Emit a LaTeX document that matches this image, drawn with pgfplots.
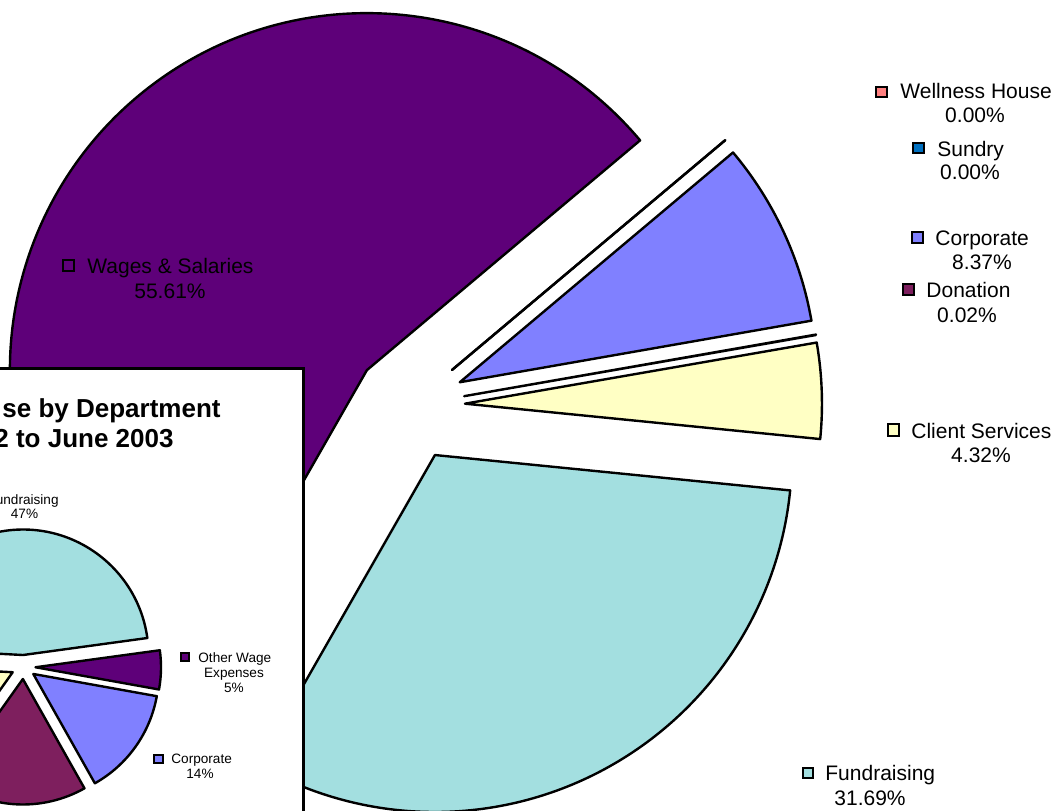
\documentclass[border=0pt]{standalone}
\usepackage{pgfplots}
\pgfplotsset{compat=1.18}
\usepackage{fontspec}
\setmainfont{Liberation Sans}

\definecolor{cWages}{RGB}{94,0,121}
\definecolor{cFund}{RGB}{163,223,224}
\definecolor{cClient}{RGB}{255,255,196}
\definecolor{cDon}{RGB}{126,31,94}
\definecolor{cCorp}{RGB}{128,128,255}
\definecolor{cSundry}{RGB}{0,112,192}
\definecolor{cWell}{RGB}{255,128,128}

% ---- data: main pie (percent) ----
\def\vFund{31.69}
\def\vClient{4.32}
\def\vDon{0.02}
\def\vCorp{8.37}
\def\vSundry{0.00}
\def\vWell{0.00}
\def\vWages{55.61}
% ---- data: inset pie (percent) ----
\def\iMaroon{18}
\def\iCorp{14}
\def\iOther{5}
\def\iFund{47}
\def\iYellow{16}

\pgfmathsetmacro\bigsum{\vFund+\vClient+\vDon+\vCorp+\vSundry+\vWell+\vWages}
\pgfmathsetmacro\bA{-119.76}
\pgfmathsetmacro\bB{\bA+(\vFund/\bigsum)*360}
\pgfmathsetmacro\bC{\bB+(\vClient/\bigsum)*360}
\pgfmathsetmacro\bD{\bC+(\vDon/\bigsum)*360}
\pgfmathsetmacro\bE{\bD+(\vCorp/\bigsum)*360}
\pgfmathsetmacro\bF{\bE+(\vSundry/\bigsum)*360}
\pgfmathsetmacro\bG{\bF+(\vWell/\bigsum)*360}
\pgfmathsetmacro\bH{\bG+(\vWages/\bigsum)*360}

\pgfmathsetmacro\insum{\iMaroon+\iCorp+\iOther+\iFund+\iYellow}
\pgfmathsetmacro\iA{-125.4}
\pgfmathsetmacro\iB{\iA+(\iMaroon/\insum)*360}
\pgfmathsetmacro\iC{\iB+(\iCorp/\insum)*360}
\pgfmathsetmacro\iD{\iC+(\iOther/\insum)*360}
\pgfmathsetmacro\iE{\iD+(\iFund/\insum)*360}
\pgfmathsetmacro\iF{\iE+(\iYellow/\insum)*360}

% slice: cx, cy, explode(pt), radius(pt), start, end, color, line width
\newcommand\slice[8]{%
  \edef\temp{\noexpand\filldraw[fill=#7,draw=black,line width=#8,line join=round]
    (axis cs:#1,#2) ++({(#5+#6)/2}:#3) -- ++(#5:#4)
    arc[start angle=#5,end angle=#6,radius=#4] -- cycle;}\temp}
\newcommand\key[5]{% x1,y1,x2,y2,color
  \filldraw[fill=#5,draw=black,line width=1.15pt] (axis cs:#1,#2) rectangle (axis cs:#3,#4);}

\newcommand\bigf{\fontsize{10.5}{12}\selectfont}
\newcommand\smallf{\fontsize{6.8}{8}\selectfont}
\newcommand\titlef{\fontsize{13}{15}\selectfont\bfseries}

\begin{document}
\begin{tikzpicture}
\begin{axis}[x=0.5pt, y=0.5pt, xmin=0, xmax=1058, ymin=0, ymax=810,
  hide axis, clip=false]
% main exploded pie
\slice{409.5}{404.3}{27.75pt}{178.5pt}{\bA}{\bB}{cFund}{1.2pt}
\slice{409.5}{404.3}{27.75pt}{178.5pt}{\bB}{\bC}{cClient}{1.2pt}
\slice{409.5}{404.3}{27.75pt}{178.5pt}{\bC}{\bD}{cDon}{1.2pt}
\slice{409.5}{404.3}{27.75pt}{178.5pt}{\bD}{\bE}{cCorp}{1.2pt}
\slice{409.5}{404.3}{27.75pt}{178.5pt}{\bE}{\bF}{cSundry}{1.2pt}
\slice{409.5}{404.3}{27.75pt}{178.5pt}{\bF}{\bG}{cWell}{1.2pt}
\slice{409.5}{404.3}{27.75pt}{178.5pt}{\bG}{\bH}{cWages}{1.2pt}

% labels main pie
\key{63}{539}{74}{550}{cWages}
\node[anchor=base west,font=\bigf,inner sep=0pt] at (axis cs:87,537) {Wages \& Salaries};
\node[anchor=base,font=\bigf,inner sep=0pt] at (axis cs:170,512) {55.61\%};

\key{876}{713}{887}{723}{cWell}
\node[anchor=base west,font=\bigf,inner sep=0pt] at (axis cs:900,711) {Wellness House};
\node[anchor=base,font=\bigf,inner sep=0pt] at (axis cs:975,687) {0.00\%};

\key{913}{657}{924}{667}{cSundry}
\node[anchor=base west,font=\bigf,inner sep=0pt] at (axis cs:937,653) {Sundry};
\node[anchor=base,font=\bigf,inner sep=0pt] at (axis cs:970,630) {0.00\%};

\key{912}{567}{923}{578}{cCorp}
\node[anchor=base west,font=\bigf,inner sep=0pt] at (axis cs:935,565) {Corporate};
\node[anchor=base,font=\bigf,inner sep=0pt] at (axis cs:982,541) {8.37\%};

\key{903}{515}{914}{526}{cDon}
\node[anchor=base west,font=\bigf,inner sep=0pt] at (axis cs:926,513) {Donation};
\node[anchor=base,font=\bigf,inner sep=0pt] at (axis cs:967,488) {0.02\%};

\key{888}{374}{899}{386}{cClient}
\node[anchor=base west,font=\bigf,inner sep=0pt] at (axis cs:911,372) {Client Services};
\node[anchor=base,font=\bigf,inner sep=0pt] at (axis cs:981,348) {4.32\%};

\key{803}{32}{813}{42}{cFund}
\node[anchor=base west,font=\bigf,inner sep=0pt] at (axis cs:825,30) {Fundraising};
\node[anchor=base,font=\bigf,inner sep=0pt] at (axis cs:870,5) {31.69\%};

% inset box
\filldraw[fill=white,draw=black,line width=1.5pt] (axis cs:-20,-20) rectangle (axis cs:303,442);
\node[anchor=base east,font=\titlef,inner sep=0pt] at (axis cs:221,393) {se by Department};
\node[anchor=base east,font=\titlef,inner sep=0pt] at (axis cs:174,363) {2 to June 2003};

% inset pie
\slice{23.5}{143}{6pt}{62.75pt}{\iA}{\iB}{cDon}{1.2pt}
\slice{23.5}{143}{6pt}{62.75pt}{\iB}{\iC}{cCorp}{1.2pt}
\slice{23.5}{143}{6pt}{62.75pt}{\iC}{\iD}{cWages}{1.2pt}
\slice{23.5}{143}{6pt}{62.75pt}{\iD}{\iE}{cFund}{1.2pt}
\slice{23.5}{143}{6pt}{62.75pt}{\iE}{\iF}{cClient}{1.2pt}

\node[anchor=base east,font=\smallf,inner sep=0pt] at (axis cs:59,306) {undraising};
\node[anchor=base,font=\smallf,inner sep=0pt] at (axis cs:24.5,292) {47\%};

\key{181}{149}{189}{157}{cWages}
\node[anchor=base west,font=\smallf,inner sep=0pt] at (axis cs:198,148) {Other Wage};
\node[anchor=base,font=\smallf,inner sep=0pt] at (axis cs:234,133) {Expenses};
\node[anchor=base,font=\smallf,inner sep=0pt] at (axis cs:234,118) {5\%};

\key{154}{47}{163}{55}{cCorp}
\node[anchor=base west,font=\smallf,inner sep=0pt] at (axis cs:171,47) {Corporate};
\node[anchor=base,font=\smallf,inner sep=0pt] at (axis cs:200,32) {14\%};
\end{axis}
\pgfresetboundingbox
\useasboundingbox (current axis.south west) rectangle (current axis.north east);
\end{tikzpicture}
\end{document}
